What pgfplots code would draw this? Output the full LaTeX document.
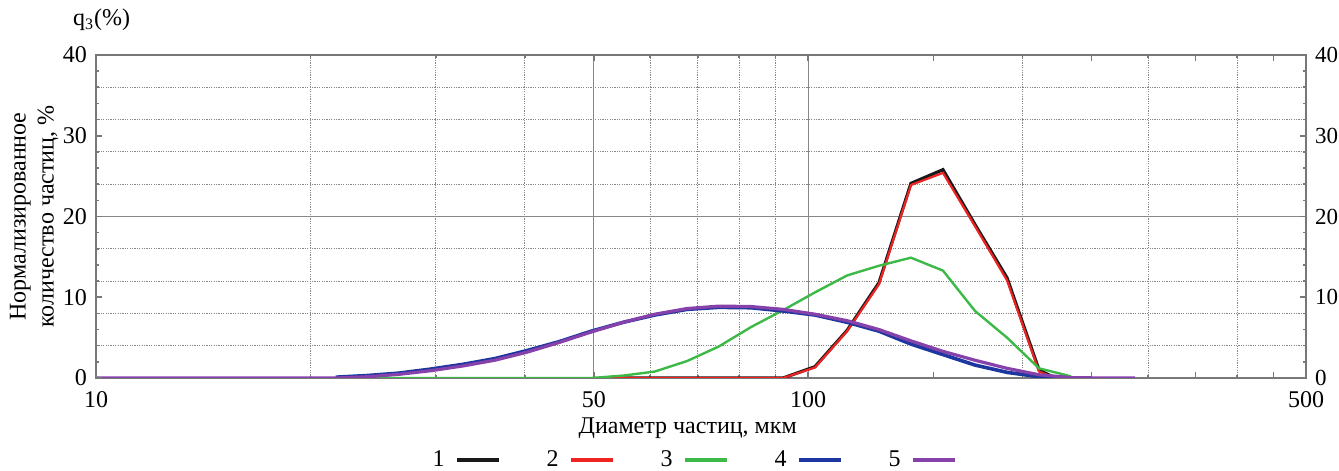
\documentclass[border=0pt]{standalone}
\usepackage{fontspec}
\setmainfont{Liberation Serif}
\usepackage{pgfplots}
\pgfplotsset{compat=1.18}
\definecolor{cblack}{RGB}{25,25,25}
\definecolor{cred}{RGB}{240,35,35}
\definecolor{cgreen}{RGB}{60,185,70}
\definecolor{cblue}{RGB}{30,55,160}
\definecolor{cpurple}{RGB}{135,65,170}
\definecolor{frame}{RGB}{120,120,120}
\definecolor{gridc}{RGB}{135,135,135}
\begin{document}
\begin{tikzpicture}
\useasboundingbox (0,0) rectangle (669.5pt,235.5pt);
\begin{axis}[
  at={(48pt,46.5pt)}, anchor=south west,
  width=605pt, height=161.5pt, scale only axis,
  xmode=log, xmin=10, xmax=500, ymin=0, ymax=40,
  xtick={10,50,100,500}, xticklabels={10,50,100,500},
  minor xtick={20,30,40,60,70,80,90,200,300,400},
  extra x ticks={150,250,350,450}, extra x tick labels={},
  extra x tick style={grid=none},
  ytick={0,10,20,30,40},
  minor ytick={4,8,12,16,24,28,32,36},
  extra y ticks={20}, extra y tick labels={},
  extra y tick style={grid=major},
  xmajorgrids=true, ymajorgrids=false, xminorgrids=true, yminorgrids=true,
  major grid style={gridc, line width=0.6pt, solid},
  minor grid style={gridc, line width=0.5pt, dash pattern=on 0.6pt off 0.6pt},
  axis line style={frame, line width=1.2pt},
  tick align=inside,
  major tick length=3pt, minor tick length=1.5pt,
  tick style={frame, line width=0.8pt},
  /pgf/number format/assume math mode=true,
  tick label style={font=\fontsize{12pt}{14pt}\selectfont},
  xticklabel style={yshift=-3pt},
  yticklabel style={xshift=-1pt},
  xlabel={Диаметр частиц, мкм},
  xlabel style={at={(axis description cs:0.489,0)}, anchor=center, yshift=-25pt, font=\fontsize{12pt}{14pt}\selectfont},
  ylabel={Нормализированное\\количество частиц, \%},
  ylabel style={at={(axis description cs:-0.0512,0.5)}, anchor=center, align=center, font=\fontsize{12pt}{14pt}\selectfont},
  legend plot pos=right,
  legend columns=5,
  legend image code/.code={\path[draw=none,fill=none] (0pt,0pt) -- (25pt,0pt); \draw[#1, line width=2pt] (4pt,0pt) -- (25pt,0pt);},
  legend style={at={(axis description cs:0.493,-0.254)}, anchor=center, draw=none, fill=none,
    font=\fontsize{12pt}{14pt}\selectfont,
    /tikz/every even column/.append style={column sep=21pt}},
]
\addplot[cblack, line width=1.6pt] coordinates {(51,0) (92.2,0) (102.2,1.4) (113.4,5.9) (125.7,11.8) (139.4,24.1) (154.6,25.8) (171.5,19.0) (190.2,12.4) (210.9,1.0) (222,0)};
\addlegendentry{1}
\addplot[cred, line width=1.1pt] coordinates {(51,0) (92.2,0) (102.2,1.3) (113.4,5.8) (125.7,11.6) (139.4,23.9) (154.6,25.4) (171.5,18.8) (190.2,12.1) (210.9,0.8) (222,0)};
\addlegendentry{2}
\addplot[cgreen, line width=1.2pt] coordinates {(24.0,0) (49.6,0) (55.0,0.3) (60.9,0.8) (67.6,2.1) (74.9,3.9) (83.1,6.3) (92.2,8.4) (102.2,10.6) (113.4,12.7) (125.7,13.9) (139.4,14.9) (154.6,13.3) (171.5,8.3) (190.2,5.0) (210.9,1.2) (233.9,0.2)};
\addlegendentry{3}
\addplot[cblue, line width=1.8pt] coordinates {(21.7,0.1) (24.0,0.3) (26.6,0.6) (29.5,1.1) (32.8,1.7) (36.3,2.4) (40.3,3.4) (44.7,4.5) (49.6,5.8) (55.0,6.9) (60.9,7.8) (67.6,8.5) (74.9,8.75) (83.1,8.7) (92.2,8.3) (102.2,7.8) (113.4,6.9) (125.7,5.8) (139.4,4.2) (154.6,2.9) (171.5,1.6) (190.2,0.7) (210.9,0.15) (233.9,0)};
\addlegendentry{4}
\addplot[cpurple, line width=1.6pt] coordinates {(10,0) (21.7,0) (24.0,0.15) (26.6,0.45) (29.5,0.9) (32.8,1.5) (36.3,2.2) (40.3,3.2) (44.7,4.4) (49.6,5.7) (55.0,6.9) (60.9,7.9) (67.6,8.6) (74.9,8.9) (83.1,8.85) (92.2,8.5) (102.2,7.9) (113.4,7.1) (125.7,6.0) (139.4,4.6) (154.6,3.3) (171.5,2.2) (190.2,1.2) (210.9,0.4) (233.9,0.05) (259.4,0) (287.7,0)};
\addlegendentry{5}
\end{axis}
\begin{axis}[
  at={(48pt,46.5pt)}, anchor=south west,
  width=605pt, height=161.5pt, scale only axis,
  xmode=log, xmin=10, xmax=500, ymin=0, ymax=40,
  hide x axis,
  ytick={0,10,20,30,40},
  minor ytick={2,6,14,18,22,26,34,38},
  yticklabel pos=right,
  axis line style={frame, line width=1.2pt},
  tick align=inside,
  major tick length=3pt, minor tick length=1.5pt,
  tick style={frame, line width=0.8pt},
  /pgf/number format/assume math mode=true,
  tick label style={font=\fontsize{11.5pt}{14pt}\selectfont},
  yticklabel style={anchor=west, xshift=1pt},
]
\end{axis}
\node[anchor=west, font=\fontsize{12pt}{14pt}\selectfont] at (33pt,225.5pt) {q\textsubscript{3}(\%)};
\end{tikzpicture}
\end{document}
